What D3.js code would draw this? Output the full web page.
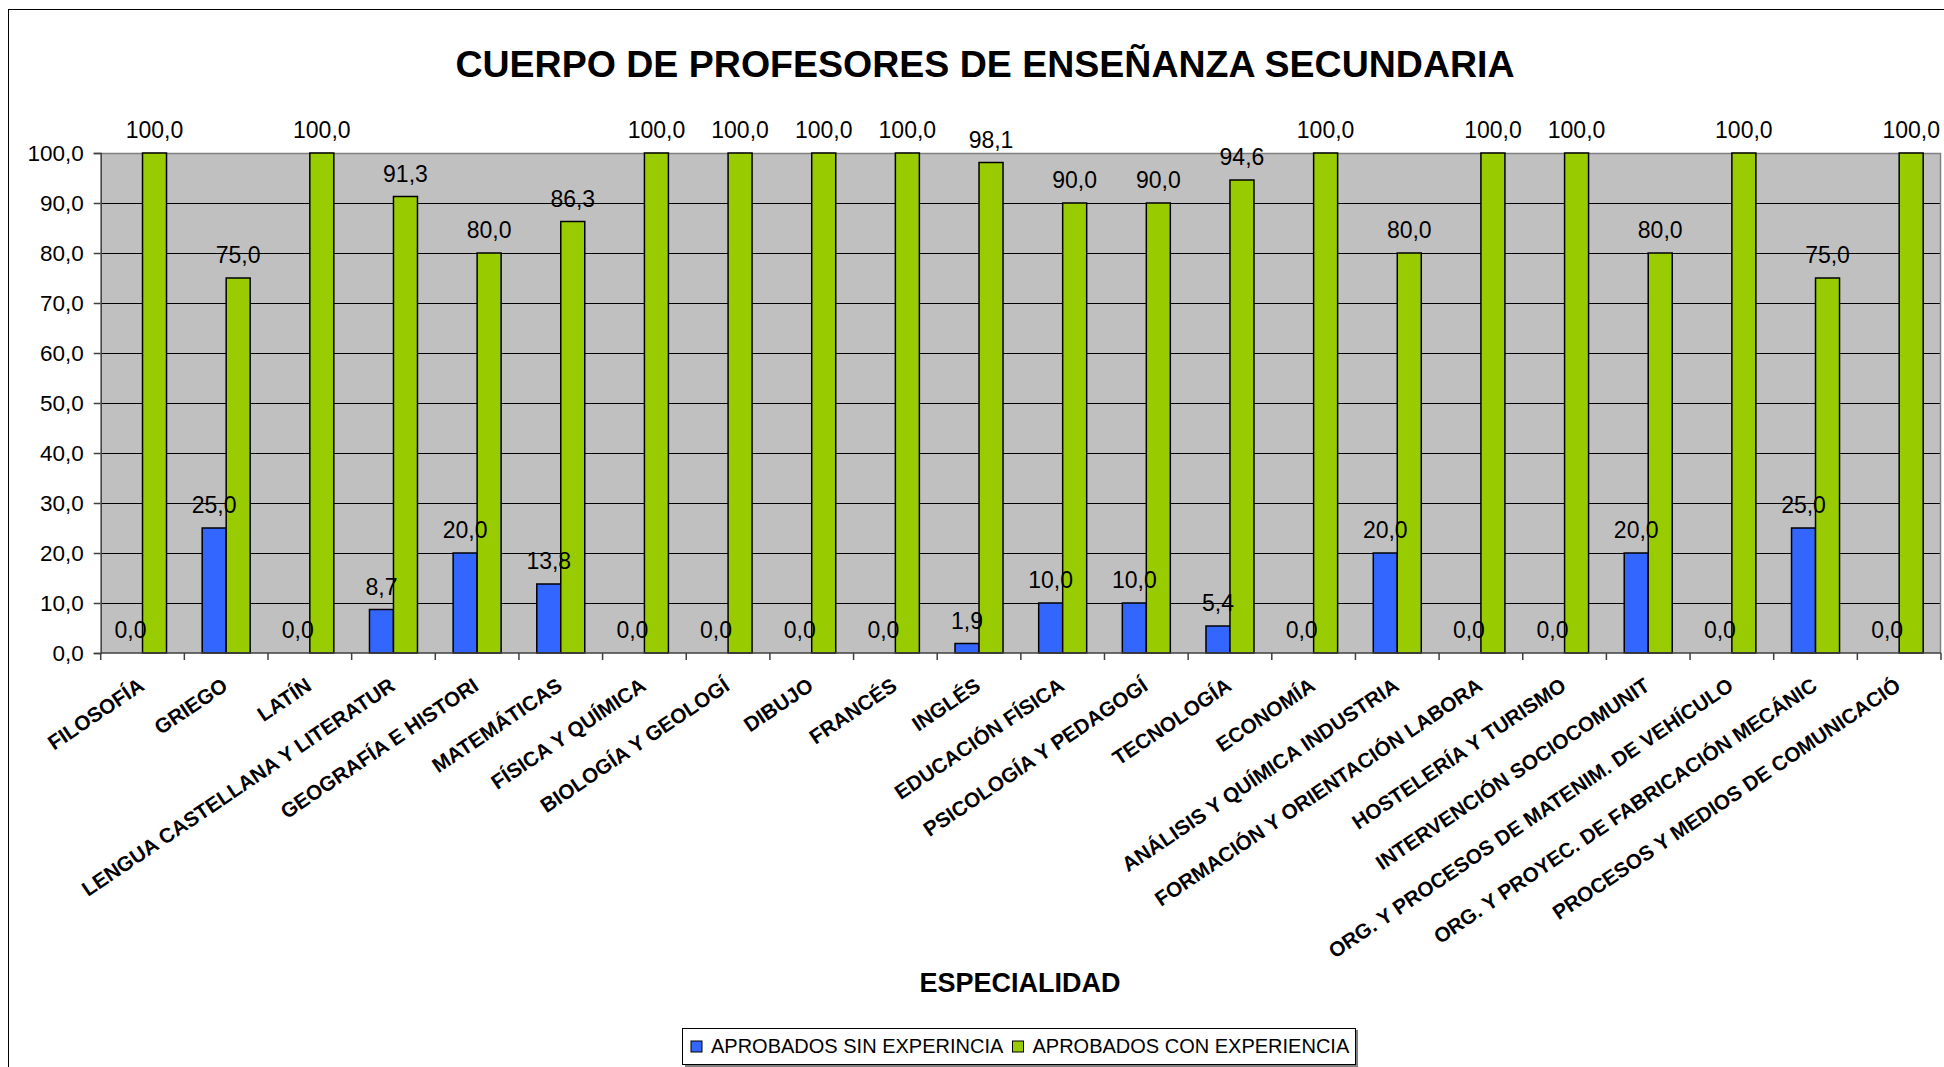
<!DOCTYPE html>
<html>
<head>
<meta charset="utf-8">
<script src="https://cdn.jsdelivr.net/npm/d3@7"></script>
<style>
  html, body { margin: 0; padding: 0; background: #ffffff; }
  svg { display: block; font-family: "Liberation Sans", Arial, sans-serif; }
</style>
</head>
<body>
<svg id="chart" width="1944" height="1067"></svg>
<script>
const categories = [
  "FILOSOFÍA", "GRIEGO", "LATÍN", "LENGUA CASTELLANA Y LITERATUR",
  "GEOGRAFÍA E HISTORI", "MATEMÁTICAS", "FÍSICA Y QUÍMICA", "BIOLOGÍA Y GEOLOGÍ",
  "DIBUJO", "FRANCÉS", "INGLÉS", "EDUCACIÓN FÍSICA",
  "PSICOLOGÍA Y PEDAGOGÍ", "TECNOLOGÍA", "ECONOMÍA", "ANÁLISIS Y QUÍMICA INDUSTRIA",
  "FORMACIÓN Y ORIENTACIÓN LABORA", "HOSTELERÍA Y TURISMO", "INTERVENCIÓN SOCIOCOMUNIT",
  "ORG. Y PROCESOS DE MATENIM. DE VEHÍCULO", "ORG. Y PROYEC. DE FABRICACIÓN MECÁNIC",
  "PROCESOS Y MEDIOS DE COMUNICACIÓ"
];
const sinExperiencia = [0, 25, 0, 8.7, 20, 13.8, 0, 0, 0, 0, 1.9, 10, 10, 5.4, 0, 20, 0, 0, 20, 0, 25, 0];
const conExperiencia = [100, 75, 100, 91.3, 80, 86.3, 100, 100, 100, 100, 98.1, 90, 90, 94.6, 100, 80, 100, 100, 80, 100, 75, 100];
const yTicks = [0, 10, 20, 30, 40, 50, 60, 70, 80, 90, 100];
const seriesNames = ["APROBADOS SIN EXPERINCIA", "APROBADOS CON EXPERIENCIA"];
const seriesColors = ["#3366FF", "#99CC00"];
const titleText = "CUERPO DE PROFESORES DE ENSEÑANZA SECUNDARIA";
const xTitleText = "ESPECIALIDAD";

const svg = d3.select("#chart");
const W = 1944, H = 1067;
const plot = { left: 100.7, right: 1941, top: 153, bottom: 653 };

const fmt = v => d3.format(".1f")(v).replace(".", ",");

// chart area border
svg.append("rect").attr("x", 0).attr("y", 0).attr("width", W).attr("height", H).attr("fill", "#fff");
svg.append("rect").attr("x", 8.5).attr("y", 9.5).attr("width", 2100).attr("height", 1200)
  .attr("fill", "none").attr("stroke", "#000").attr("stroke-width", 1);

const x = d3.scaleBand().domain(categories).range([plot.left, plot.right]).padding(0);
const y = d3.scaleLinear().domain([0, 100]).range([plot.bottom, plot.top]);
const barW = x.bandwidth() * 0.2868;

// plot background
svg.append("rect").attr("x", plot.left).attr("y", plot.top)
  .attr("width", plot.right - plot.left).attr("height", plot.bottom - plot.top)
  .attr("fill", "#C0C0C0");

// gridlines
svg.append("g").selectAll("line").data(yTicks.filter(t => t > 0 && t < 100)).join("line")
  .attr("x1", plot.left).attr("x2", plot.right)
  .attr("y1", d => Math.round(y(d)) + 0.5).attr("y2", d => Math.round(y(d)) + 0.5)
  .attr("stroke", "#000").attr("stroke-width", 1);

// plot border top/right
svg.append("path")
  .attr("d", `M${plot.left},${plot.top + 0.5}H${plot.right - 0.5}V${plot.bottom}`)
  .attr("fill", "none").attr("stroke", "#808080").attr("stroke-width", 1.5);

// bars
const series = [sinExperiencia, conExperiencia];
series.forEach((vals, si) => {
  svg.append("g").selectAll("rect").data(categories).join("rect")
    .attr("x", (c) => x(c) + x.bandwidth() / 2 - barW + si * barW)
    .attr("y", (c, i) => y(vals[i]))
    .attr("width", barW)
    .attr("height", (c, i) => y(0) - y(vals[i]))
    .attr("fill", seriesColors[si])
    .attr("stroke", "#000").attr("stroke-width", 1.5);
});

// y axis
const yAxis = d3.axisLeft(y).tickValues(yTicks).tickFormat(fmt).tickSize(7).tickPadding(10);
const yg = svg.append("g").attr("transform", `translate(${plot.left},0)`).call(yAxis);
yg.select(".domain").attr("stroke", "#404040").attr("stroke-width", 1.5);
yg.selectAll(".tick line").attr("stroke", "#404040").attr("stroke-width", 1.5);
yg.selectAll(".tick text").attr("font-size", 22.5).attr("fill", "#000")
  .attr("font-family", "Liberation Sans, Arial, sans-serif");

// x axis line and boundary ticks
svg.append("line").attr("x1", plot.left).attr("x2", plot.right)
  .attr("y1", plot.bottom).attr("y2", plot.bottom)
  .attr("stroke", "#404040").attr("stroke-width", 1.5);
const bounds = categories.map(c => x(c)).concat([plot.right]);
svg.append("g").selectAll("line").data(bounds).join("line")
  .attr("x1", d => d).attr("x2", d => d)
  .attr("y1", plot.bottom).attr("y2", plot.bottom + 7)
  .attr("stroke", "#404040").attr("stroke-width", 1.5);

// x labels
svg.append("g").selectAll("text").data(categories).join("text")
  .attr("transform", c => `translate(${x(c) + x.bandwidth() / 2 + 3},689) rotate(-34)`)
  .attr("text-anchor", "end")
  .attr("font-size", 20.7).attr("font-weight", "bold").attr("fill", "#000")
  .text(c => c);

// data labels
series.forEach((vals, si) => {
  svg.append("g").selectAll("text").data(categories).join("text")
    .attr("x", c => x(c) + x.bandwidth() / 2 - barW + si * barW + barW / 2)
    .attr("y", (c, i) => y(vals[i]) - 15)
    .attr("text-anchor", "middle")
    .attr("font-size", 23).attr("fill", "#000")
    .text((c, i) => fmt(vals[i]));
});

// title
svg.append("text").attr("x", 985).attr("y", 77).attr("text-anchor", "middle")
  .attr("font-size", 37.5).attr("font-weight", "bold").attr("fill", "#000").text(titleText);

// x axis title
svg.append("text").attr("x", 1020).attr("y", 992).attr("text-anchor", "middle")
  .attr("font-size", 27).attr("font-weight", "bold").attr("fill", "#000").text(xTitleText);

// legend
const lg = svg.append("g");
lg.append("rect").attr("x", 685).attr("y", 1030).attr("width", 673).attr("height", 37).attr("fill", "#808080");
lg.append("rect").attr("x", 682.5).attr("y", 1028.5).attr("width", 673).attr("height", 36)
  .attr("fill", "#fff").attr("stroke", "#000").attr("stroke-width", 1);
const legendX = [691, 1012.5];
seriesNames.forEach((n, i) => {
  lg.append("rect").attr("x", legendX[i]).attr("y", 1041).attr("width", 11).attr("height", 11)
    .attr("fill", seriesColors[i]).attr("stroke", "#000").attr("stroke-width", 1);
  lg.append("text").attr("x", legendX[i] + 20).attr("y", 1053)
    .attr("font-size", 20).attr("fill", "#000").text(n);
});
</script>
</body>
</html>
